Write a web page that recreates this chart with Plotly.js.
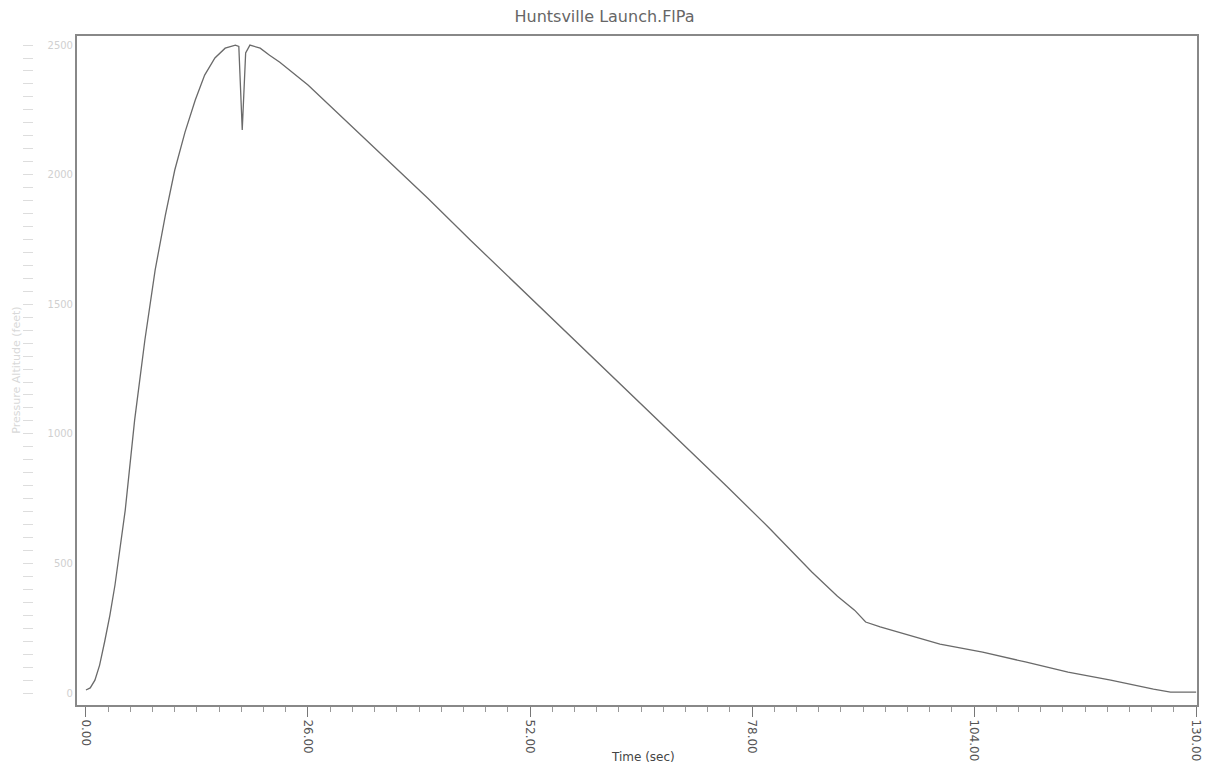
<!DOCTYPE html>
<html>
<head>
<meta charset="utf-8">
<script src="https://cdn.plot.ly/plotly-3.0.1.min.js"></script>
<style>html,body{margin:0;padding:0;background:#fff;}#chart{width:1209px;height:767px;}</style>
</head>
<body>
<div id="chart"></div>
<script>
// Time (sec)
const timeSec = [0, 0.5, 1.05, 1.6, 2.2, 2.8, 3.4, 4.0, 4.6, 5.7, 6.9, 8.1, 9.3, 10.4, 11.6, 12.8, 13.9, 15.1, 16.3, 17.5, 17.9, 18.3, 18.7, 19.2, 20.4, 21.5, 22.7, 26, 30, 35, 40, 45, 50, 55, 60, 65, 70, 75, 80, 85, 88, 90, 91.3, 93, 100, 105, 110, 115, 120, 125, 127, 130];
// Altitude
const altitude = [12, 20, 50, 108, 200, 300, 417, 555, 706, 1053, 1362, 1632, 1844, 2018, 2164, 2288, 2384, 2450, 2488, 2500, 2495, 2172, 2470, 2500, 2488, 2461, 2434, 2346, 2222, 2064, 1910, 1748, 1590, 1431, 1273, 1115, 957, 799, 637, 467, 374, 320, 274, 255, 189, 158, 120, 81, 50, 15, 4, 4];
const xTickVals = [0, 26, 52, 78, 104, 130];
const xTickText = ["0.00", "26.00", "52.00", "78.00", "104.00", "130.00"];
const yTickVals = [0, 500, 1000, 1500, 2000, 2500];
const yTickText = ["0", "500", "1000", "1500", "2000", "2500"];

const traces = [
  {x: timeSec, y: altitude, type: 'scatter', mode: 'lines',
   line: {color: '#6a6a6a', width: 1.3}, hoverinfo: 'x+y', showlegend: false},
  {x: [null], y: [null], type: 'scatter', mode: 'lines', yaxis: 'y2', showlegend: false, hoverinfo: 'skip'}
];

const layout = {
  width: 1209, height: 767,
  margin: {l: 22, r: 12, t: 36, b: 62},
  paper_bgcolor: '#fff', plot_bgcolor: '#fff',
  font: {family: 'DejaVu Sans, Arial, sans-serif', color: '#555'},
  title: {text: 'Huntsville Launch.FlPa', x: 0.5, xref: 'container', xanchor: 'center',
          y: 0.978, yanchor: 'middle', yref: 'container',
          font: {family: 'DejaVu Sans, sans-serif', size: 16, color: '#666'}},
  xaxis: {
    domain: [0.0468, 1], range: [-1.05, 130.1],
    tickmode: 'array', tickvals: xTickVals, ticktext: xTickText, tickangle: 90,
    ticks: 'outside', ticklen: 10, tickwidth: 1, tickcolor: '#777',
    tickfont: {size: 12, color: '#555', family: 'DejaVu Sans, sans-serif'},
    minor: {tickmode: 'linear', tick0: 0, dtick: 2.6, ticks: 'outside', ticklen: 5, tickcolor: '#999', showgrid: false},
    showgrid: false, zeroline: false, showline: true, mirror: true, linecolor: '#888', linewidth: 2
  },
  yaxis: {
    range: [-46, 2535],
    tickmode: 'array', tickvals: yTickVals, ticktext: yTickText,
    ticks: '', tickfont: {size: 10, color: '#d0d0d0'},
    showgrid: false, zeroline: false, showline: true, mirror: true, linecolor: '#888', linewidth: 2
  },
  yaxis2: {
    overlaying: 'y', anchor: 'free', position: 0, side: 'left',
    range: [-46, 2535], tickmode: 'linear', tick0: 0, dtick: 50,
    ticks: 'inside', ticklen: 10, tickcolor: '#ddd', tickwidth: 1,
    showticklabels: false, showgrid: false, zeroline: false, showline: false
  },
  annotations: [
    {text: 'Time (sec)', xref: 'x', x: 65.2, yref: 'paper', y: -0.078, yanchor: 'middle',
     showarrow: false, font: {size: 12, color: '#444', family: 'DejaVu Sans, sans-serif'}},
    {text: 'Pressure Altitude (feet)', xref: 'paper', x: -0.005, xanchor: 'center', yref: 'paper', y: 0.5,
     textangle: -90, showarrow: false, font: {size: 11, color: '#d8d8d8', family: 'DejaVu Sans, sans-serif'}}
  ]
};

Plotly.newPlot('chart', traces, layout, {displayModeBar: false, staticPlot: true});
</script>
</body>
</html>
